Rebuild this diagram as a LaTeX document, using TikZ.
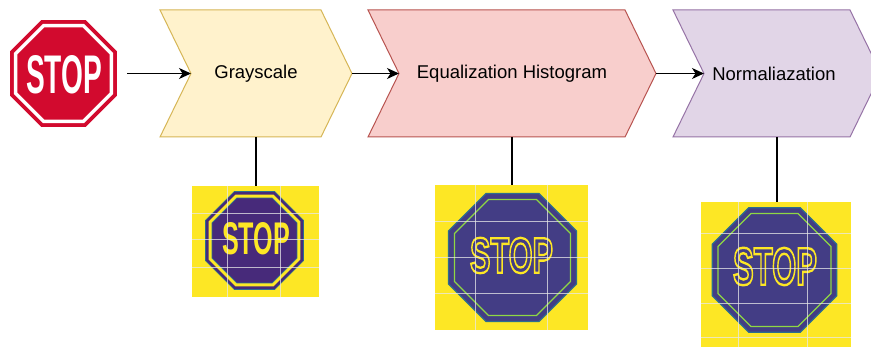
\documentclass[tikz,border=0pt]{standalone}
\usepackage{fontspec}
\usepackage{graphicx}
\setmainfont{Liberation Sans}
\usetikzlibrary{arrows.meta}

\definecolor{signred}{HTML}{D20A2E}
\definecolor{vyellow}{HTML}{FDE725}
\definecolor{vpurpleA}{HTML}{472A7A}
\definecolor{vpurpleB}{HTML}{433D85}
\definecolor{vteal}{HTML}{2C6E8E}
\definecolor{vgreen}{HTML}{8FD744}
\definecolor{chevYfill}{HTML}{FFF2CC}
\definecolor{chevYline}{HTML}{D6B656}
\definecolor{chevRfill}{HTML}{F8CECC}
\definecolor{chevRline}{HTML}{B85450}
\definecolor{chevPfill}{HTML}{E1D5E7}
\definecolor{chevPline}{HTML}{9673A6}

% regular octagon with flat top and bottom: options, centre, circumradius
\newcommand\octagonat[3]{%
  \path[#1, shift={(#2)}] (22.5:#3) -- (67.5:#3) -- (112.5:#3) -- (157.5:#3)
    -- (202.5:#3) -- (247.5:#3) -- (292.5:#3) -- (337.5:#3) -- cycle;}

% sign lettering squeezed into a given box
\newcommand\signword[2]{\resizebox{#1pt}{#2pt}{\fontsize{48}{48}\selectfont\bfseries STOP}}
% outlined lettering (stroke only)
\newcommand\hollowword[2]{\resizebox{#1pt}{#2pt}{\fontsize{48}{48}\selectfont\bfseries
  \special{pdf:literal direct 1 Tr 2.2 w}STOP\special{pdf:literal direct 0 Tr 1 w}}}

\tikzset{
  chevron/.style={line width=1pt, line join=miter},
  steplabel/.style={font=\fontsize{18.5}{22}\selectfont, text=black, inner sep=0pt},
  flow/.style={line width=1.5pt, -{Stealth[length=12pt, width=11pt, inset=3.5pt]}},
  stem/.style={line width=1.4pt},
  imgbox/.style={fill=vyellow, inner sep=0pt, outer sep=0pt},
  gridline/.style={draw=white!82!gray, line width=0.9pt, opacity=0.75},
}

\begin{document}
\begin{tikzpicture}[x=1pt, y=-1pt]
  \clip (0,0) rectangle (871,347);
  \fill[white] (0,0) rectangle (871,347);

  % ---- input stop sign ----
  \node[minimum size=107pt, inner sep=0pt] (stop) at (63.5,73.5) {};
  \octagonat{fill=signred}{63.5,73.5}{57.9}
  \octagonat{fill=white}{63.5,73.5}{53.6}
  \octagonat{fill=signred}{63.5,73.5}{49.8}
  \node[text=white, inner sep=0pt] (stopword) at (64,74.5) {\signword{76}{38}};

  % ---- process chevrons ----
  \draw[chevron, fill=chevYfill, draw=chevYline]
    (160,10) -- (321,10) -- (352,73.5) coordinate (c1tip) -- (321,137)
    -- (160,137) -- (191,73.5) coordinate (c1notch) -- cycle;
  \draw[chevron, fill=chevRfill, draw=chevRline]
    (368,10) -- (625,10) -- (656,73.5) coordinate (c2tip) -- (625,137)
    -- (368,137) -- (399,73.5) coordinate (c2notch) -- cycle;
  \draw[chevron, fill=chevPfill, draw=chevPline]
    (673,10) -- (850,10) -- (881,73.5) coordinate (c3tip) -- (850,137)
    -- (673,137) -- (704,73.5) coordinate (c3notch) -- cycle;

  \node[steplabel] (gray) at (256,73.5) {Grayscale};
  \node[steplabel] (equal) at (512,73.5) {Equalization Histogram};
  \node[steplabel] (norm) at (774,73.5) {Normaliazation};

  \coordinate (c1bot) at (256,137);
  \coordinate (c2bot) at (512,137);
  \coordinate (c3bot) at (777,137);

  \draw[flow] ([xshift=10pt]stop.east) -- (c1notch);
  \draw[flow] (c1tip) -- (c2notch);
  \draw[flow] (c2tip) -- (c3notch);

  % ---- grayscale result ----
  \node[imgbox, minimum width=127pt, minimum height=111pt] (img1) at (255.5,241.5) {};
  \octagonat{fill=vpurpleA, draw=vteal, line width=0.6pt}{254.5,240.5}{53.0}
  \octagonat{fill=vyellow}{254.5,240.5}{49.6}
  \octagonat{fill=vpurpleA, draw=vteal, line width=0.6pt}{254.5,240.5}{46.0}
  \node[text=vyellow, inner sep=0pt] (w1) at (256,239) {\signword{68}{32}};
  \foreach \gy in {213,239,267} \draw[gridline] (192,\gy) -- (319,\gy);
  \foreach \gx in {227,280} \draw[gridline] (\gx,186) -- (\gx,297);

  % ---- equalized result ----
  \node[imgbox, minimum width=153pt, minimum height=145pt] (img2) at (511.5,257.5) {};
  \octagonat{fill=vpurpleB, draw=vteal, line width=1.2pt}{512.5,257.5}{69.2}
  \octagonat{draw=vgreen, line width=1.3pt}{512.5,257.5}{62.8}
  \node[text=vyellow, inner sep=0pt] (w2) at (511.5,255.5) {\hollowword{83}{35}};
  \foreach \gy in {221,257,293} \draw[gridline] (435,\gy) -- (588,\gy);
  \foreach \gx in {475,547} \draw[gridline] (\gx,185) -- (\gx,330);

  % ---- normalized result ----
  \node[imgbox, minimum width=150pt, minimum height=145pt] (img3) at (776,274.5) {};
  \octagonat{fill=vpurpleB, draw=vteal, line width=1.2pt}{774.5,270}{67.4}
  \octagonat{draw=vgreen, line width=1.3pt}{774.5,270}{61.2}
  \node[text=vyellow, inner sep=0pt] (w3) at (775,266.5) {\hollowword{84}{37}};
  \foreach \gy in {233,268,303,337} \draw[gridline] (701,\gy) -- (851,\gy);
  \foreach \gx in {738,807} \draw[gridline] (\gx,202) -- (\gx,347);

  % ---- stems from each step to its result ----
  \draw[stem] (c1bot) -- (c1bot |- img1.north);
  \draw[stem] (c2bot) -- (c2bot |- img2.north);
  \draw[stem] (c3bot) -- (c3bot |- img3.north);
\end{tikzpicture}
\end{document}
